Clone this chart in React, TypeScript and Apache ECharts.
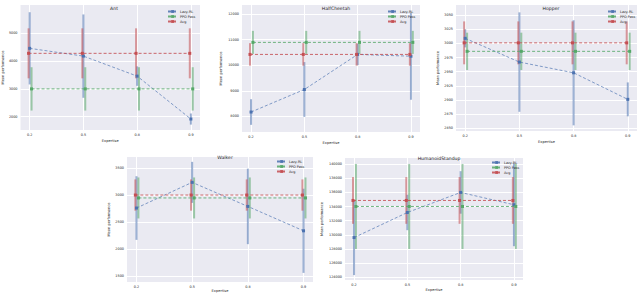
import React, { useEffect, useRef } from 'react';
import * as echarts from 'echarts';

const FONT = 'DejaVu Sans';
const TEXT = '#262626';
const BLUE = '#4C72B0';
const GREEN = '#55A868';
const RED = '#C44E52';

const methodNames = ['Lazy-RL', 'PPO Pass', 'Avg'];
const xLabels = ['0.2', '0.5', '0.8', '0.9'];

const panelTitles = ['Ant', 'HalfCheetah', 'Hopper', 'Walker', 'HumanoidStandup'];

// Ant
const antLazy = [4460, 4180, 3460, 1915];
const antLazyErr = [1300, 1500, 350, 200];
const antPPO = [3000, 3000, 3000, 3000];
const antPPOErr = [780, 780, 780, 780];
const antAvg = [4280, 4280, 4280, 4280];
const antAvgErr = [900, 900, 900, 900];
const antTicks = [2000, 3000, 4000, 5000];

// HalfCheetah
const hcLazy = [8170, 9050, 10420, 10350];
const hcLazyErr = [500, 1070, 420, 1700];
const hcPPO = [10890, 10890, 10890, 10890];
const hcPPOErr = [450, 450, 450, 450];
const hcAvg = [10420, 10420, 10420, 10420];
const hcAvgErr = [440, 440, 440, 440];
const hcTicks = [8000, 9000, 10000, 11000, 12000];

// Hopper
const hopLazy = [3009, 2967, 2948, 2901];
const hopLazyErr = [16, 88, 93, 30];
const hopPPO = [2986, 2986, 2986, 2986];
const hopPPOErr = [33, 33, 33, 33];
const hopAvg = [3001, 3001, 3001, 3001];
const hopAvgErr = [38, 38, 38, 38];
const hopTicks = [2850, 2875, 2900, 2925, 2950, 2975, 3000, 3025, 3050];

// Walker
const walLazy = [2759, 3235, 2789, 2337];
const walLazyErr = [590, 380, 700, 780];
const walPPO = [2946, 2946, 2946, 2946];
const walPPOErr = [380, 380, 380, 380];
const walAvg = [3000, 3000, 3000, 3000];
const walAvgErr = [290, 290, 290, 290];
const walTicks = [1500, 2000, 2500, 3000, 3500];

// HumanoidStandup
const humLazy = [129620, 133160, 135990, 134250];
const humLazyErr = [5300, 2500, 3000, 5850];
const humPPO = [134010, 134010, 134010, 134010];
const humPPOErr = [6000, 6000, 6000, 6000];
const humAvg = [134860, 134860, 134860, 134860];
const humAvgErr = [3300, 3300, 3300, 3300];
const humTicks = [124000, 126000, 128000, 130000, 132000, 134000, 136000, 138000, 140000];

type Panel = {
  title: string;
  grid: { left: number; top: number; width: number; height: number };
  yMin: number; yMax: number; yTicks: number[]; nameGap: number;
  lazy: number[]; lazyErr: number[]; ppo: number[]; ppoErr: number[]; avg: number[]; avgErr: number[];
  legend: { left: number; top: number };
  titlePos: { x: number; y: number };
  xNameGap: number;
};

const panels: Panel[] = [
  { title: panelTitles[0], grid: { left: 18, top: 5, width: 182, height: 125 }, yMin: 1520, yMax: 6020, yTicks: antTicks, nameGap: 14,
    lazy: antLazy, lazyErr: antLazyErr, ppo: antPPO, ppoErr: antPPOErr, avg: antAvg, avgErr: antAvgErr,
    legend: { left: 167, top: 10 }, titlePos: { x: 109, y: 1 }, xNameGap: 9 },
  { title: panelTitles[1], grid: { left: 242, top: 5, width: 178, height: 127 }, yMin: 7390, yMax: 12350, yTicks: hcTicks, nameGap: 19,
    lazy: hcLazy, lazyErr: hcLazyErr, ppo: hcPPO, ppoErr: hcPPOErr, avg: hcAvg, avgErr: hcAvgErr,
    legend: { left: 387, top: 10 }, titlePos: { x: 331, y: 1 }, xNameGap: 9 },
  { title: panelTitles[2], grid: { left: 456, top: 5, width: 181, height: 126 }, yMin: 2845, yMax: 3068, yTicks: hopTicks, nameGap: 15,
    lazy: hopLazy, lazyErr: hopLazyErr, ppo: hopPPO, ppoErr: hopPPOErr, avg: hopAvg, avgErr: hopAvgErr,
    legend: { left: 607, top: 10 }, titlePos: { x: 546, y: 1 }, xNameGap: 9 },
  { title: panelTitles[3], grid: { left: 127, top: 157, width: 186, height: 128 }, yMin: 1386, yMax: 3705, yTicks: walTicks, nameGap: 15,
    lazy: walLazy, lazyErr: walLazyErr, ppo: walPPO, ppoErr: walPPOErr, avg: walAvg, avgErr: walAvgErr,
    legend: { left: 276, top: 160 }, titlePos: { x: 220, y: 150 }, xNameGap: 6 },
  { title: panelTitles[4], grid: { left: 345, top: 158, width: 178, height: 122 }, yMin: 123630, yMax: 140850, yTicks: humTicks, nameGap: 21,
    lazy: humLazy, lazyErr: humLazyErr, ppo: humPPO, ppoErr: humPPOErr, avg: humAvg, avgErr: humAvgErr,
    legend: { left: 491, top: 161 }, titlePos: { x: 434, y: 151 }, xNameGap: 8 },
];

const offsets = { lazy: 0, ppo: 0.035, avg: -0.02 };

function makeErrRender(color: string) {
  return (params: any, api: any) => {
    const p1 = api.coord([api.value(0), api.value(1)]);
    const p2 = api.coord([api.value(0), api.value(2)]);
    return {
      type: 'line',
      shape: { x1: p1[0], y1: p1[1], x2: p2[0], y2: p2[1] },
      style: { stroke: color, lineWidth: 2, opacity: 0.55 },
    };
  };
}

export default function App() {
  const ref = useRef<HTMLDivElement>(null);
  useEffect(() => {
    if (!ref.current) return;
    const chart = echarts.init(ref.current, undefined, { renderer: 'svg' });
    const grids: any[] = [];
    const xAxes: any[] = [];
    const yAxes: any[] = [];
    const titles: any[] = [];
    const legends: any[] = [];
    const lineSeries: any[] = [];
    const errSeries: any[] = [];

    panels.forEach((p, gi) => {
      grids.push({ ...p.grid, show: true, backgroundColor: '#EAEAF2', borderWidth: 0, containLabel: false });
      xAxes.push({
        type: 'value', gridIndex: gi, min: -0.17, max: 3.17,
        name: 'Expertise', nameLocation: 'middle', nameGap: p.xNameGap,
        nameTextStyle: { fontFamily: FONT, fontSize: 3.6, color: TEXT },
        axisLine: { show: false },
        axisTick: { show: false, customValues: [0, 1, 2, 3] },
        axisLabel: { customValues: [0, 1, 2, 3], formatter: (v: number) => xLabels[Math.round(v)] ?? '', fontFamily: FONT, fontSize: 3.4, color: TEXT, margin: 3 },
        splitLine: { show: true, lineStyle: { color: '#ffffff', width: 1 } },
      });
      yAxes.push({
        type: 'value', gridIndex: gi, min: p.yMin, max: p.yMax,
        name: 'Mean performance', nameLocation: 'middle', nameGap: p.nameGap,
        nameTextStyle: { fontFamily: FONT, fontSize: 3.6, color: TEXT },
        axisLine: { show: false },
        axisTick: { show: false, customValues: p.yTicks },
        axisLabel: { customValues: p.yTicks, formatter: (v: number) => String(v), fontFamily: FONT, fontSize: 3.4, color: TEXT, margin: 3 },
        splitLine: { show: true, lineStyle: { color: '#ffffff', width: 1 } },
      });
      titles.push({
        text: p.title, left: p.titlePos.x, top: p.titlePos.y, textAlign: 'center',
        textStyle: { fontFamily: FONT, fontSize: 4.6, fontWeight: 'normal', color: TEXT },
      });
      legends.push({
        data: methodNames, orient: 'vertical', left: p.legend.left, top: p.legend.top,
        itemWidth: 9, itemHeight: 3.5, itemGap: 2, padding: 0, selectedMode: false,
        textStyle: { fontFamily: FONT, fontSize: 3.4, color: TEXT, padding: [0, 0, 0, -2] },
      });
      const defs = [
        { name: methodNames[0], color: BLUE, vals: p.lazy, errs: p.lazyErr, off: offsets.lazy, w: 0.8 },
        { name: methodNames[1], color: GREEN, vals: p.ppo, errs: p.ppoErr, off: offsets.ppo, w: 1 },
        { name: methodNames[2], color: RED, vals: p.avg, errs: p.avgErr, off: offsets.avg, w: 1 },
      ];
      defs.forEach((d) => {
        lineSeries.push({
          type: 'line', name: d.name, xAxisIndex: gi, yAxisIndex: gi,
          data: d.vals.map((v, k) => [k + d.off, v]),
          lineStyle: { type: [3, 2], width: d.w, color: d.color, opacity: 0.85 },
          itemStyle: { color: d.color },
          symbol: 'rect', symbolSize: 3, z: 3,
        });
        errSeries.push({
          type: 'custom', name: d.name, xAxisIndex: gi, yAxisIndex: gi,
          data: d.vals.map((v, k) => [k + d.off, v - d.errs[k], v + d.errs[k]]),
          renderItem: makeErrRender(d.color),
          encode: { x: 0, y: [1, 2] }, clip: true, z: 2,
        });
      });
    });

    chart.setOption({
      animation: false,
      backgroundColor: '#ffffff',
      title: titles,
      legend: legends,
      grid: grids,
      xAxis: xAxes,
      yAxis: yAxes,
      series: [...lineSeries, ...errSeries],
    });
    return () => chart.dispose();
  }, []);
  return <div ref={ref} style={{ position: 'absolute', left: 0, top: 0, width: 640, height: 294 }} />;
}
